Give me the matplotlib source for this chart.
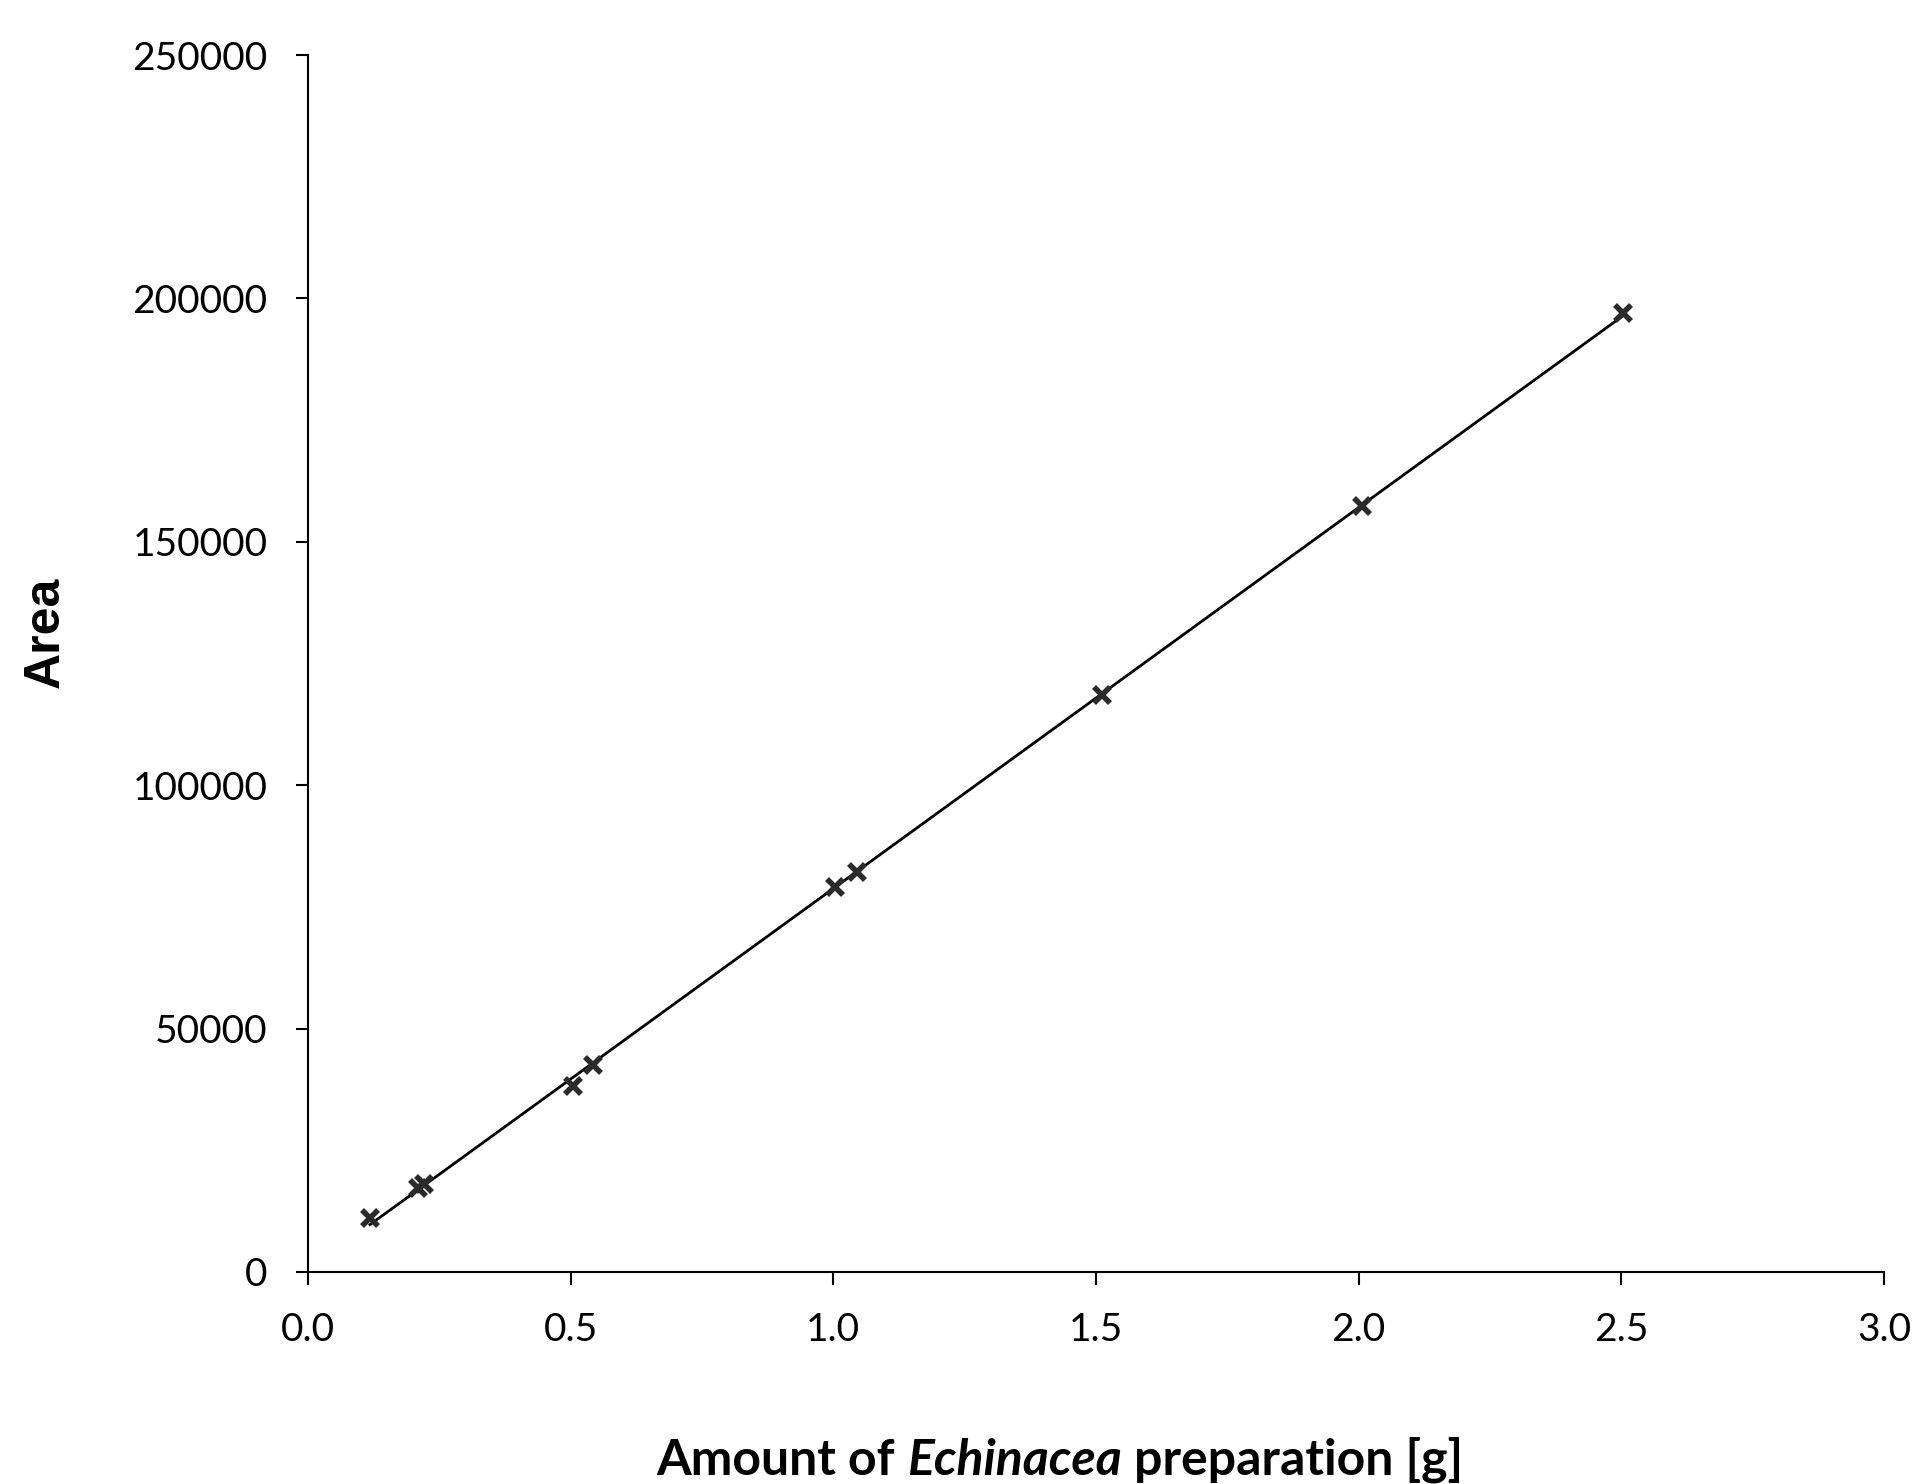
import numpy as np
import matplotlib
matplotlib.use('Agg')
import matplotlib.pyplot as plt
from matplotlib.ticker import FixedLocator, FormatStrFormatter

# amount of Echinacea preparation [g] vs peak area
amount = np.array([0.118, 0.21, 0.22, 0.505, 0.543, 1.003, 1.045, 1.511, 2.006, 2.503])
area = np.array([11100, 17300, 18000, 38200, 42500, 79100, 82200, 118500, 157400, 197000])

xticks = [0.0, 0.5, 1.0, 1.5, 2.0, 2.5, 3.0]
yticks = [0, 50000, 100000, 150000, 200000, 250000]

plt.rcParams['font.family'] = ['Lato', 'DejaVu Sans']

fig = plt.figure(figsize=(19.14, 14.84), dpi=100)
ax = fig.add_axes([0.1609, 0.1429, 0.8234, 0.8200])

# linear trendline
k, b = np.polyfit(amount, area, 1)
xl = np.array([amount.min(), amount.max()])
ax.plot(xl, k * xl + b, color='black', linewidth=2.0, zorder=2)
ax.plot(amount, area, linestyle='none', marker='x', markersize=12,
        markeredgewidth=4, color='#2a2a2a', zorder=3)

ax.set_xlim(0, 3.0)
ax.set_ylim(0, 250000)
ax.xaxis.set_major_locator(FixedLocator(xticks))
ax.yaxis.set_major_locator(FixedLocator(yticks))
ax.xaxis.set_major_formatter(FormatStrFormatter('%.1f'))
ax.yaxis.set_major_formatter(FormatStrFormatter('%d'))

for s in ['top', 'right']:
    ax.spines[s].set_visible(False)
for s in ['left', 'bottom']:
    ax.spines[s].set_linewidth(1.5)
ax.tick_params(axis='both', which='major', direction='out', length=9, width=1.5,
               labelsize=28)
ax.tick_params(axis='y', pad=20)
ax.tick_params(axis='x', pad=20)

fig.text(0.024, 0.574, 'Area', rotation=90, ha='center', va='center',
         fontsize=36, fontweight='bold', family=['Liberation Sans', 'DejaVu Sans'])

# x label with italic genus name
t1 = fig.text(0.343, 0.001, 'Amount of ', fontsize=36, fontweight='bold', va='bottom')
t2 = fig.add_artist(plt.Annotation('Echinacea', xy=(1, 0), xycoords=t1, va='bottom',
                                   fontsize=36, fontweight='bold', style='italic'))
t3 = fig.add_artist(plt.Annotation(' preparation [g]', xy=(1, 0), xycoords=t2, va='bottom',
                                   fontsize=36, fontweight='bold'))

fig.savefig('out.png', dpi=100)
